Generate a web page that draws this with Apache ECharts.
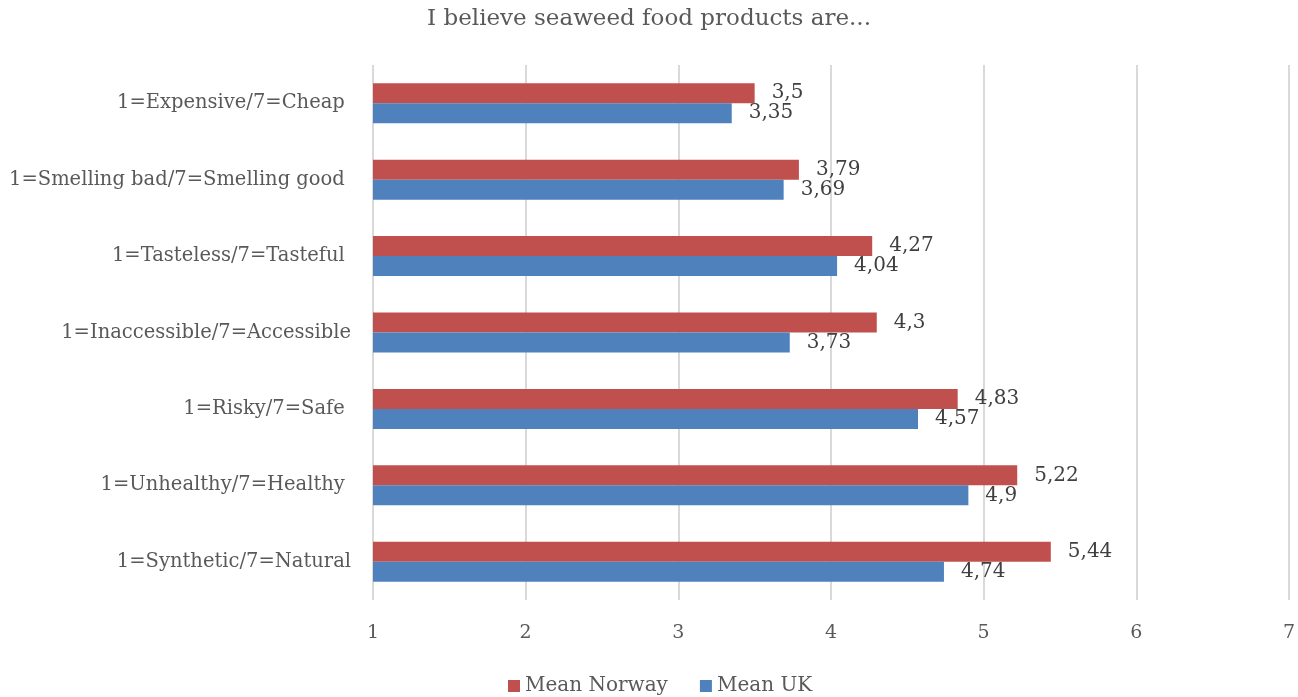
<!DOCTYPE html>
<html>
<head>
<meta charset="utf-8">
<script src="https://cdn.jsdelivr.net/npm/echarts@6/dist/echarts.min.js"></script>
<style>
  html, body { margin: 0; padding: 0; background: #fff; }
  #chart { width: 1298px; height: 697px; }
</style>
</head>
<body>
<div id="chart"></div>
<script>
// Survey attributes, listed top to bottom (some source labels carry a trailing space)
const categories = [
  '1=Expensive/7=Cheap ',
  '1=Smelling bad/7=Smelling good ',
  '1=Tasteless/7=Tasteful ',
  '1=Inaccessible/7=Accessible',
  '1=Risky/7=Safe ',
  '1=Unhealthy/7=Healthy ',
  '1=Synthetic/7=Natural'
];
const meanNorway = [3.5, 3.79, 4.27, 4.3, 4.83, 5.22, 5.44];
const meanUK = [3.35, 3.69, 4.04, 3.73, 4.57, 4.9, 4.74];
const xTicks = [1, 2, 3, 4, 5, 6, 7];

const FONT = '"DejaVu Serif", serif';
const commaDecimal = v => String(v).replace('.', ',');

const chart = echarts.init(document.getElementById('chart'));
chart.setOption({
  animation: false,
  backgroundColor: '#ffffff',
  title: {
    text: 'I believe seaweed food products are...',
    left: 'center',
    top: 3,
    textStyle: { fontFamily: FONT, fontSize: 23, fontWeight: 'normal', color: '#595959' }
  },
  legend: {
    top: 671,
    left: 503,
    icon: 'rect',
    itemWidth: 12,
    itemHeight: 12,
    itemGap: 32,
    textStyle: { fontFamily: FONT, fontSize: 20, color: '#595959' },
    data: ['Mean Norway', 'Mean UK']
  },
  grid: { left: 373, right: 8, top: 65, bottom: 97, containLabel: false },
  xAxis: {
    type: 'value',
    min: xTicks[0],
    max: xTicks[xTicks.length - 1],
    interval: 1,
    axisLine: { show: false },
    axisTick: { show: false },
    axisLabel: { fontFamily: FONT, fontSize: 19, color: '#595959', margin: 24 },
    splitLine: { lineStyle: { color: '#d9d9d9', width: 2 } }
  },
  yAxis: {
    type: 'category',
    inverse: true,
    data: categories,
    axisLine: { show: false },
    axisTick: { show: false },
    axisLabel: { fontFamily: FONT, fontSize: 19.5, color: '#595959', margin: 22 }
  },
  series: [
    {
      name: 'Mean Norway',
      type: 'bar',
      data: meanNorway,
      barWidth: 20,
      barGap: '0%',
      itemStyle: { color: '#c0504d' },
      label: {
        show: true, position: 'right', distance: 17,
        fontFamily: FONT, fontSize: 20, color: '#404040',
        formatter: p => commaDecimal(p.value)
      }
    },
    {
      name: 'Mean UK',
      type: 'bar',
      data: meanUK,
      barWidth: 20,
      barGap: '0%',
      itemStyle: { color: '#4f81bd' },
      label: {
        show: true, position: 'right', distance: 17,
        fontFamily: FONT, fontSize: 20, color: '#404040',
        formatter: p => commaDecimal(p.value)
      }
    }
  ]
});
</script>
</body>
</html>
